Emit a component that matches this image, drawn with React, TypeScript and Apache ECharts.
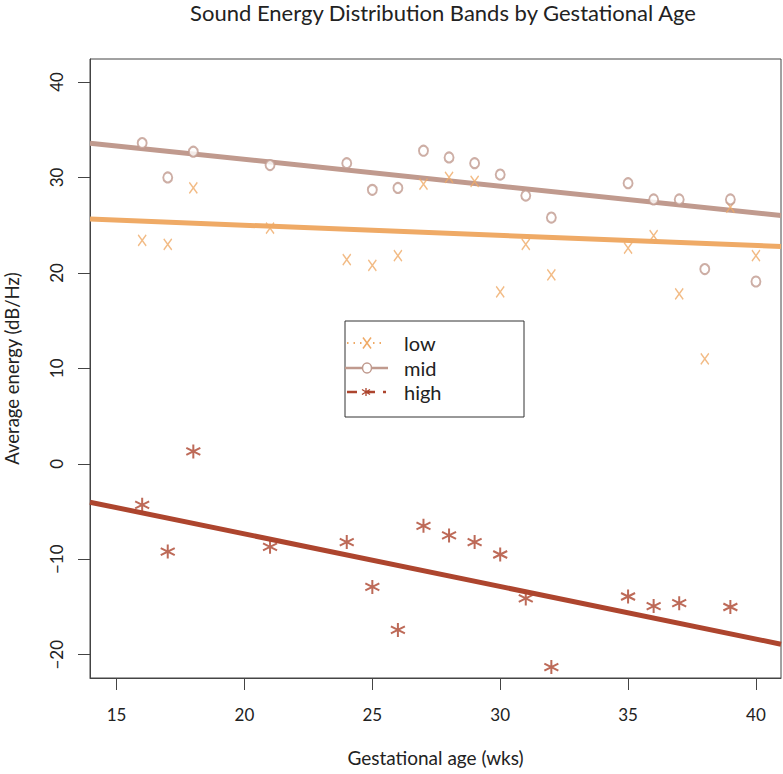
import React, { useEffect, useRef } from "react";
import * as echarts from "echarts";

// Gestational age (weeks) of each recording
const ages = [16, 17, 18, 21, 24, 25, 26, 27, 28, 29, 30, 31, 32, 35, 36, 37, 38, 39, 40];
// Average energy (dB/Hz) per band
const lowVals = [23.4, 23.0, 28.9, 24.7, 21.4, 20.8, 21.8, 29.3, 30.0, 29.6, 18.0, 23.0, 19.8, 22.6, 23.9, 17.8, 11.0, 26.9, 21.8];
const midVals = [33.6, 30.0, 32.7, 31.3, 31.5, 28.7, 28.9, 32.8, 32.1, 31.5, 30.3, 28.1, 25.8, 29.4, 27.7, 27.7, 20.4, 27.7, 19.1];
const highVals = [-4.3, -9.2, 1.3, -8.7, -8.2, -12.9, -17.4, -6.5, -7.5, -8.2, -9.5, -14.1, -21.3, -13.9, -14.9, -14.6, null, -15.0, null];

// Fitted trend lines, read at the plot edges
const fitX = [13.96, 40.98];
const lowFit = [25.64, 22.77];
const midFit = [33.59, 26.01];
const highFit = [-4.02, -18.9];

// Axis ticks
const xTicks = [15, 20, 25, 30, 35, 40];
const yTicks = [-20, -10, 0, 10, 20, 30, 40];

const seriesNames = ["low", "mid", "high"];

const LOW = "#EFAA66";
const MID = "#C09A8E";
const HIGH = "#AD452E";
const FONT = "Lato";
const TXT = "#222";

const X_PATH = "path://M0,0L9,12M9,0L0,12";
const AST_PATH = "path://M7,0L7,14M0.9,3.5L13.1,10.5M13.1,3.5L0.9,10.5";

export default function App() {
  const ref = useRef<HTMLDivElement>(null);
  useEffect(() => {
    document.body.style.margin = "0";
    const chart = echarts.init(ref.current!, null, { renderer: "svg" });
    const pair = (vals: (number | null)[]) =>
      ages.map((a, i) => [a, vals[i]]).filter((p) => p[1] !== null);
    const fit = (vals: number[]) => fitX.map((x, i) => [x, vals[i]]);
    const minus = (v: number) => String(v).replace("-", "\u2212");

    const lx1 = 347, lx2 = 386, lmx = 367;
    const rowY = [343, 368, 392];

    chart.setOption({
      animation: false,
      title: {
        text: "Sound Energy Distribution Bands by Gestational Age",
        left: 438,
        top: -4,
        textAlign: "center",
        textStyle: { fontFamily: FONT, fontSize: 22, fontWeight: "normal", color: TXT },
      },
      grid: {
        left: 90,
        top: 59,
        right: 2,
        bottom: 96,
        outerBoundsMode: "none",
        containLabel: false,
        show: true,
        borderColor: "#444",
        borderWidth: 1,
        backgroundColor: "transparent",
      },
      xAxis: {
        type: "value",
        min: 13.96,
        max: 40.98,
        name: "Gestational age (wks)",
        nameLocation: "middle",
        nameGap: 70,
        nameTextStyle: { fontFamily: FONT, fontSize: 19, color: TXT },
        splitLine: { show: false },
        axisLine: { show: true, onZero: false, lineStyle: { color: "#444" } },
        axisTick: { show: true, length: 12, customValues: xTicks, lineStyle: { color: "#444" } },
        axisLabel: {
          customValues: xTicks,
          margin: 28,
          fontFamily: FONT,
          fontSize: 17,
          color: TXT,
        },
      },
      yAxis: {
        type: "value",
        min: -22.44,
        max: 42.41,
        name: "Average energy (dB/Hz)",
        nameLocation: "middle",
        nameGap: 69,
        nameRotate: 90,
        nameTextStyle: { fontFamily: FONT, fontSize: 18.5, color: TXT },
        splitLine: { show: false },
        axisLine: { show: true, onZero: false, lineStyle: { color: "#444" } },
        axisTick: { show: true, length: 12, customValues: yTicks, lineStyle: { color: "#444" } },
        axisLabel: {
          customValues: yTicks,
          rotate: 90,
          margin: 25,
          fontFamily: FONT,
          fontSize: 17,
          color: TXT,
          formatter: minus,
        },
      },
      series: [
        {
          name: seriesNames[0] + " fit",
          type: "line",
          data: fit(lowFit),
          symbol: "none",
          lineStyle: { color: LOW, width: 5 },
          z: 2,
        },
        {
          name: seriesNames[1] + " fit",
          type: "line",
          data: fit(midFit),
          symbol: "none",
          lineStyle: { color: MID, width: 5 },
          z: 2,
        },
        {
          name: seriesNames[2] + " fit",
          type: "line",
          data: fit(highFit),
          symbol: "none",
          lineStyle: { color: HIGH, width: 5 },
          z: 2,
        },
        {
          name: seriesNames[0],
          type: "scatter",
          data: pair(lowVals),
          symbol: X_PATH,
          symbolSize: [8, 11],
          itemStyle: { color: "transparent", borderColor: LOW, borderWidth: 1.5 },
          z: 3,
        },
        {
          name: seriesNames[1],
          type: "scatter",
          data: pair(midVals),
          symbol: "emptyCircle",
          symbolSize: [9, 10],
          itemStyle: { color: MID, borderColor: MID, borderWidth: 1.5 },
          z: 3,
        },
        {
          name: seriesNames[2],
          type: "scatter",
          data: pair(highVals),
          symbol: AST_PATH,
          symbolSize: [14, 14],
          itemStyle: { color: "transparent", borderColor: HIGH, borderWidth: 2 },
          z: 3,
        },
      ],
      graphic: [
        {
          type: "group",
          z: 100,
          children: [
            {
              type: "rect",
              shape: { x: 345, y: 321, width: 179, height: 96 },
              style: { fill: "#fff", stroke: "#333", lineWidth: 1 },
            },
            // low
            {
              type: "line",
              shape: { x1: lx1, y1: rowY[0], x2: lx2, y2: rowY[0] },
              style: { stroke: LOW, lineWidth: 2, lineDash: [1.5, 5] },
            },
            { type: "line", shape: { x1: lmx - 4, y1: rowY[0] - 5.5, x2: lmx + 4, y2: rowY[0] + 5.5 }, style: { stroke: LOW, lineWidth: 1.5 } },
            { type: "line", shape: { x1: lmx + 4, y1: rowY[0] - 5.5, x2: lmx - 4, y2: rowY[0] + 5.5 }, style: { stroke: LOW, lineWidth: 1.5 } },
            // mid
            {
              type: "line",
              shape: { x1: 345, y1: rowY[1], x2: 388, y2: rowY[1] },
              style: { stroke: MID, lineWidth: 2.5 },
            },
            { type: "ellipse", shape: { cx: lmx, cy: rowY[1], rx: 4.5, ry: 5 }, style: { fill: "#fff", stroke: MID, lineWidth: 1.5 } },
            // high
            {
              type: "line",
              shape: { x1: lx1, y1: rowY[2], x2: lx2, y2: rowY[2] },
              style: { stroke: HIGH, lineWidth: 2.5, lineDash: [10, 8] },
            },
            { type: "line", shape: { x1: lmx - 1, y1: rowY[2] - 4, x2: lmx - 1, y2: rowY[2] + 4 }, style: { stroke: HIGH, lineWidth: 1.3 } },
            { type: "line", shape: { x1: lmx - 5, y1: rowY[2] - 2.5, x2: lmx + 3, y2: rowY[2] + 2.5 }, style: { stroke: HIGH, lineWidth: 1.3 } },
            { type: "line", shape: { x1: lmx + 3, y1: rowY[2] - 2.5, x2: lmx - 5, y2: rowY[2] + 2.5 }, style: { stroke: HIGH, lineWidth: 1.3 } },
            ...seriesNames.map((n, i) => ({
              type: "text",
              x: 404,
              y: rowY[i],
              style: {
                text: n,
                fontFamily: FONT,
                fontSize: 20,
                fill: TXT,
                verticalAlign: "middle",
              },
            })),
          ],
        },
      ],
    });
    return () => chart.dispose();
  }, []);
  return <div ref={ref} style={{ width: 783, height: 774 }} />;
}
